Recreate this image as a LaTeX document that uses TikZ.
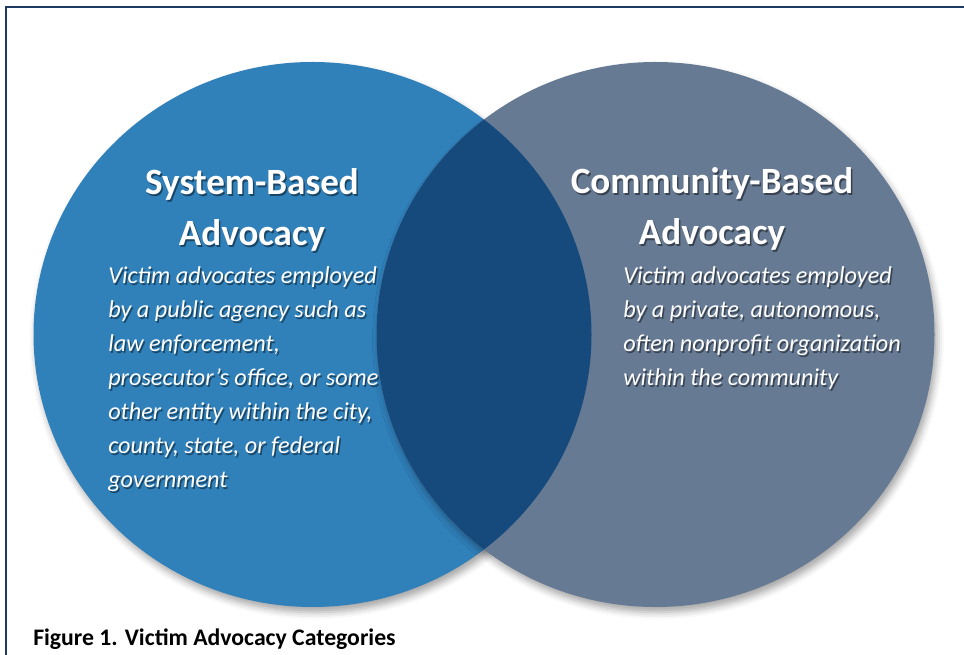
\documentclass[tikz,border=0pt]{standalone}
\usepackage{fontspec}
\setmainfont{Carlito}
\usetikzlibrary{shadows.blur}
\definecolor{sysblue}{HTML}{3080BA}
\definecolor{comgray}{HTML}{667A93}
\definecolor{overlapblue}{HTML}{174A7C}
\definecolor{framenavy}{HTML}{1F3A60}
\tikzset{
  titletext/.style={font=\bfseries\fontsize{27.8}{38.25}\selectfont, align=center, anchor=base, inner sep=0pt},
  bodytext/.style={font=\itshape\fontsize{18.2}{25.5}\selectfont, align=left, anchor=base west, inner sep=0pt},
  circleshadow/.style={blur shadow={shadow xshift=2pt, shadow yshift=-4pt, shadow opacity=35, shadow blur radius=5pt}},
}
\begin{document}
\begin{tikzpicture}[x=0.75pt, y=-0.75pt]
	\useasboundingbox (0,0) rectangle (964,655);
	% frame
	\draw[framenavy, line width=2.2pt] (6,665) -- (6,7) -- (970,7);
	% the two circles and their overlap
	\coordinate (sysC) at (312.5,334.5);
	\coordinate (comC) at (655.5,334.5);
	\fill[sysblue, circleshadow] (sysC) ellipse [x radius=279, y radius=272.5];
	\fill[comgray, circleshadow] (comC) ellipse [x radius=279, y radius=272.5];
	\begin{scope}
		\clip (sysC) ellipse [x radius=279, y radius=272.5];
		\fill[overlapblue] (comC) ellipse [x radius=279, y radius=272.5];
	\end{scope}
	% texts, shadow first (base = last line)
	\foreach \off/\tc/\op in {1.5/black/0.45, 0/white/1} {
		\begin{scope}[shift={(\off,\off)}, text=\tc, text opacity=\op]
			\node[titletext] (sysTitle) at (252,246) {System-Based\\Advocacy};
			\node[titletext] (comTitle) at (712,245) {Community-Based\\Advocacy};
			\node[bodytext] (sysText) at (108,488) {Victim advocates employed\\by a public agency such as\\law enforcement,\\prosecutor’s office, or some\\other entity within the city,\\county, state, or federal\\government};
			\node[bodytext] (comText) at (623,386) {Victim advocates employed\\by a private, autonomous,\\often nonprofit organization\\within the community};
		\end{scope}
	}
	\node[font=\bfseries\fontsize{17.8}{20}\selectfont, anchor=base west, inner sep=0pt] (caption) at (33,645) {Figure 1. Victim Advocacy Categories};
\end{tikzpicture}
\end{document}
